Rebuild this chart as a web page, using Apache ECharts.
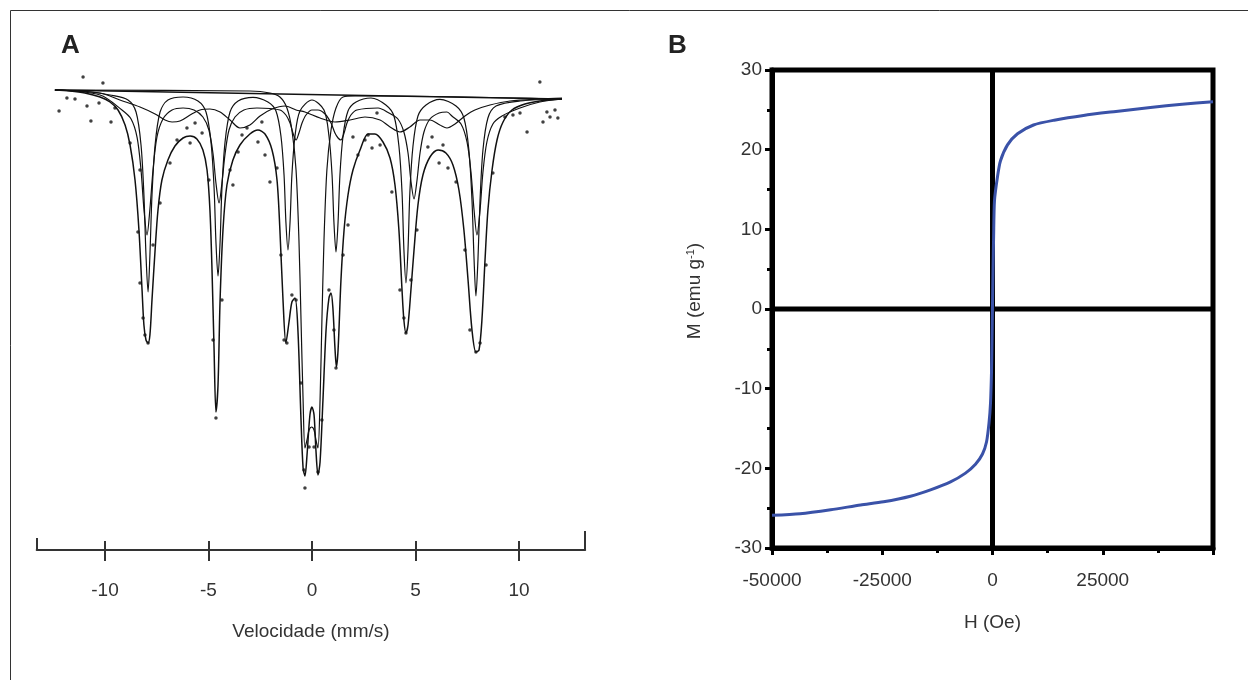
<!DOCTYPE html>
<html>
<head>
<meta charset="utf-8">
<script src="https://cdn.jsdelivr.net/npm/echarts@6/dist/echarts.min.js"></script>
<style>html,body{margin:0;padding:0;background:#fff;}#c{width:1248px;height:680px;}</style>
</head>
<body>
<div id="c"></div>
<script>
// ---------- Panel A: Mössbauer spectrum (velocity mm/s, relative transmission %) ----------
const velTicks = [-10, -5, 0, 5, 10];
const velMin = -13.3, velMax = 13.2;

const envelopeFit = [[-12.42,100],[-11.69,99.97],[-10.97,99.91],[-10.24,99.79],[-9.76,99.64],[-9.37,99.4],[-9.03,98.95],[-8.79,98.35],[-8.55,97.3],[-8.36,95.8],[-8.21,94.0],[-8.12,92.95],[-8.02,92.5],[-7.92,92.41],[-7.83,92.65],[-7.73,93.7],[-7.58,95.2],[-7.44,96.4],[-7.25,97.3],[-6.96,97.9],[-6.62,98.32],[-6.23,98.56],[-5.89,98.62],[-5.56,98.53],[-5.27,98.2],[-5.07,97.6],[-4.93,96.4],[-4.83,94.6],[-4.73,92.2],[-4.64,90.34],[-4.54,91.15],[-4.44,93.7],[-4.30,95.8],[-4.11,97.15],[-3.82,97.9],[-3.48,98.35],[-3.0,98.68],[-2.61,98.8],[-2.27,98.68],[-1.93,98.2],[-1.69,97.3],[-1.55,95.8],[-1.40,93.7],[-1.26,92.41],[-1.11,93.04],[-0.97,93.64],[-0.82,93.76],[-0.68,92.8],[-0.53,90.1],[-0.43,88.66],[-0.34,88.42],[-0.24,89.05],[-0.10,90.25],[0,90.49],[0.10,90.25],[0.19,89.2],[0.29,88.45],[0.39,88.84],[0.53,90.7],[0.68,92.8],[0.82,93.76],[0.92,93.91],[1.01,93.46],[1.11,92.26],[1.18,91.69],[1.26,92.2],[1.40,94.3],[1.55,95.8],[1.74,96.85],[1.98,97.6],[2.32,98.2],[2.71,98.68],[3.04,98.68],[3.43,98.44],[3.77,97.96],[4.01,97.15],[4.20,95.8],[4.35,94.0],[4.44,93.1],[4.54,92.71],[4.64,92.95],[4.78,94.0],[4.93,95.2],[5.12,96.55],[5.36,97.45],[5.70,97.99],[6.09,98.2],[6.47,98.11],[6.81,97.75],[7.10,97.0],[7.34,95.8],[7.54,94.3],[7.73,92.8],[7.92,92.14],[8.07,92.2],[8.21,93.1],[8.36,94.9],[8.50,96.4],[8.70,97.6],[8.94,98.5],[9.23,99.04],[9.66,99.4],[10.29,99.58],[11.01,99.67],[12.08,99.73]];

const sextetSharp = [[-12.42,100],[-10.72,99.94],[-9.76,99.85],[-8.89,99.7],[-8.50,99.34],[-8.26,98.35],[-8.12,96.85],[-8.02,95.05],[-7.92,93.94],[-7.83,95.05],[-7.73,96.85],[-7.58,98.35],[-7.34,99.34],[-6.96,99.7],[-6.23,99.79],[-5.51,99.67],[-5.12,99.34],[-4.88,98.44],[-4.73,97.06],[-4.64,95.44],[-4.54,94.42],[-4.44,95.44],[-4.35,97.06],[-4.20,98.44],[-3.96,99.34],[-3.57,99.67],[-2.85,99.78],[-2.13,99.64],[-1.74,99.37],[-1.50,98.62],[-1.35,97.45],[-1.26,96.04],[-1.16,95.2],[-1.06,96.04],[-0.97,97.45],[-0.82,98.62],[-0.58,99.37],[0,99.7],[0.58,99.4],[0.82,98.62],[0.97,97.45],[1.06,96.04],[1.16,95.14],[1.26,96.04],[1.35,97.45],[1.50,98.62],[1.74,99.37],[2.13,99.64],[2.85,99.76],[3.57,99.55],[3.96,99.22],[4.20,98.32],[4.35,96.94],[4.44,95.23],[4.54,94.21],[4.64,95.23],[4.73,96.94],[4.88,98.32],[5.12,99.22],[5.51,99.55],[6.18,99.72],[6.96,99.52],[7.34,99.16],[7.58,98.2],[7.73,96.7],[7.83,94.93],[7.92,93.82],[8.02,94.93],[8.12,96.7],[8.26,98.2],[8.50,99.16],[8.89,99.52],[10.05,99.67],[12.08,99.73]];

const sextetMedium = [[-12.42,100],[-10.24,99.85],[-9.18,99.4],[-8.74,99.13],[-8.45,98.58],[-8.26,97.6],[-8.12,96.43],[-7.97,95.65],[-7.83,96.43],[-7.68,97.6],[-7.49,98.59],[-7.20,99.13],[-6.76,99.4],[-6.23,99.46],[-5.70,99.4],[-5.27,99.19],[-4.98,98.8],[-4.78,98.08],[-4.64,97.21],[-4.49,96.61],[-4.35,97.21],[-4.20,98.08],[-4.01,98.8],[-3.72,99.19],[-3.29,99.4],[-2.66,99.46],[-1.55,99.4],[-1.26,99.25],[-1.06,99.01],[-0.92,98.71],[-0.77,98.5],[-0.63,98.71],[-0.48,99.01],[-0.29,99.25],[0,99.4],[0.29,99.4],[0.63,99.28],[0.92,99.01],[1.11,98.71],[1.26,98.56],[1.40,98.5],[1.55,98.71],[1.69,99.01],[1.88,99.25],[2.17,99.4],[3.19,99.46],[3.72,99.31],[4.15,99.13],[4.44,98.74],[4.64,98.11],[4.78,97.27],[4.93,96.73],[5.07,97.27],[5.22,98.11],[5.41,98.74],[5.70,99.13],[6.14,99.31],[6.52,99.34],[6.76,99.22],[7.20,98.98],[7.49,98.44],[7.68,97.54],[7.83,96.4],[7.97,95.65],[8.12,96.4],[8.26,97.54],[8.45,98.44],[8.74,98.98],[9.18,99.22],[10.05,99.46],[11.01,99.64],[12.08,99.73]];

const sextetBroad = [[-12.42,100],[-10.24,99.91],[-9.28,99.7],[-8.31,99.49],[-7.58,99.28],[-7.10,99.1],[-6.76,99.04],[-6.38,99.07],[-5.89,99.25],[-5.41,99.4],[-4.93,99.43],[-4.44,99.34],[-3.96,99.1],[-3.48,98.86],[-3.0,98.95],[-2.51,99.22],[-1.93,99.43],[-1.30,99.52],[-0.77,99.4],[-0.34,99.34],[0.39,99.16],[1.11,99.04],[1.84,99.1],[2.56,99.19],[3.29,99.1],[3.77,98.89],[4.25,98.74],[4.73,98.89],[5.22,99.1],[5.70,99.1],[6.18,98.95],[6.52,98.86],[6.91,98.98],[7.39,99.22],[7.87,99.4],[8.60,99.55],[9.57,99.67],[11.01,99.73],[12.08,99.76]];

const doubletFit = [[-12.42,100],[-3.0,99.97],[-2.03,99.91],[-1.55,99.79],[-1.21,99.46],[-0.97,98.8],[-0.77,97.6],[-0.63,95.5],[-0.53,93.1],[-0.43,90.7],[-0.34,89.26],[-0.24,89.5],[-0.14,89.8],[-0.02,89.89],[0.10,89.8],[0.19,89.5],[0.29,89.26],[0.39,90.7],[0.48,93.1],[0.58,95.5],[0.72,97.6],[0.92,98.8],[1.16,99.46],[1.50,99.79],[2.08,99.82],[3.29,99.82],[12.08,99.73]];

const baselineFit = [[-12.42,100],[12.08,99.73]];

const spectrumPoints = [[-11.06,100.39],[-10.10,100.21],[-12.22,99.37],[-10.68,99.07],[-9.71,99.04],[-11.84,99.76],[-11.45,99.73],[-10.87,99.52],[-10.29,99.61],[-9.52,99.46],[-8.79,98.41],[-8.31,97.6],[-8.41,95.74],[-8.31,94.21],[-8.07,92.65],[-7.92,92.41],[-8.16,93.16],[-7.68,95.35],[-7.34,96.61],[-6.86,97.81],[-6.52,98.5],[-6.04,98.86],[-5.89,98.41],[-5.65,99.01],[-5.31,98.71],[-4.98,97.3],[-4.78,92.5],[-4.64,90.16],[-4.35,93.7],[-3.96,97.6],[-3.82,97.15],[-3.57,98.14],[-3.38,98.65],[-3.14,98.86],[-2.61,98.44],[-2.42,99.04],[-2.27,98.05],[-2.03,97.24],[-1.69,97.66],[-1.50,95.05],[-1.35,92.5],[-1.21,92.41],[-0.97,93.85],[-0.77,93.7],[-0.53,91.21],[-0.39,88.6],[-0.34,88.06],[-0.14,89.29],[0.10,89.29],[0.29,88.54],[0.48,90.1],[0.82,94.0],[1.16,91.66],[1.06,92.8],[1.50,95.05],[1.74,95.95],[1.98,98.59],[2.22,98.05],[2.56,98.5],[2.71,98.65],[2.90,98.26],[3.14,99.31],[3.29,98.35],[3.86,96.94],[4.25,94.0],[4.44,93.16],[4.54,92.71],[4.78,94.3],[5.07,95.8],[5.60,98.29],[5.80,98.59],[6.14,97.81],[6.33,98.35],[6.57,97.66],[6.96,97.24],[7.39,95.2],[7.63,92.8],[7.92,92.14],[8.12,92.41],[8.41,94.75],[8.74,97.51],[9.32,99.19],[9.71,99.25],[10.05,99.31],[10.39,98.74],[11.01,100.24],[11.16,99.04],[11.35,99.34],[11.50,99.19],[11.74,99.4],[11.88,99.16]];

// ---------- Panel B: magnetization curve ----------
const fieldTicks = [-50000, -25000, 0, 25000];
const magTicks = [-30, -20, -10, 0, 10, 20, 30];
const hysteresis = [[-50000,-25.9],[-43650,-25.7],[-36700,-25.2],[-29900,-24.6],[-24700,-24.2],[-18600,-23.5],[-14060,-22.7],[-9520,-21.7],[-6120,-20.6],[-3860,-19.5],[-2270,-18.2],[-1360,-16.7],[-790,-14.3],[-450,-11.8],[-230,-8.0],[-110,-4.0],[0,0.5],[120,5.0],[250,9.0],[450,13.6],[1130,16.6],[1814,18.6],[3400,20.6],[5670,22.0],[9300,23.1],[14000,23.7],[20630,24.3],[28000,24.8],[35800,25.3],[43000,25.7],[50000,26.0]];
const zeroV = [[0,-30],[0,30]];
const zeroH = [[-50000,0],[50000,0]];

const FONT = "'Liberation Sans', Arial, sans-serif";
const chart = echarts.init(document.getElementById('c'), null, {renderer: 'canvas'});

const lineS = (name, data, w) => ({
  name, type: 'line', xAxisIndex: 0, yAxisIndex: 0, data,
  showSymbol: false, smooth: 0.3, silent: true,
  lineStyle: {color: '#111', width: w}, z: 3
});

chart.setOption({
  animation: false,
  backgroundColor: '#fff',
  textStyle: {fontFamily: FONT},
  title: [
    {text: 'A', left: 61, top: 33, padding: 0, textStyle: {fontSize: 26, fontWeight: 'bold', color: '#222', fontFamily: FONT}},
    {text: 'B', left: 668, top: 33, padding: 0, textStyle: {fontSize: 26, fontWeight: 'bold', color: '#222', fontFamily: FONT}}
  ],
  graphic: [{
    type: 'rect', silent: true, z: -1,
    shape: {x: 10.5, y: 10.5, width: 1300, height: 720},
    style: {fill: 'none', stroke: '#333', lineWidth: 1}
  }],
  grid: [
    {left: 36.7, right: 662.8, top: 70, bottom: 190, show: false},
    {left: 772, right: 35, top: 70, bottom: 132, show: true, borderColor: '#000', borderWidth: 5, backgroundColor: 'transparent'}
  ],
  xAxis: [
    {type: 'value', gridIndex: 0, min: velMin, max: velMax, position: 'bottom', offset: 60,
     axisLine: {show: true, lineStyle: {color: '#333', width: 2}},
     axisTick: {show: true, inside: false, length: 11, customValues: velTicks, lineStyle: {color: '#333', width: 2}},
     axisLabel: {show: true, customValues: velTicks, margin: 31, fontSize: 19, color: '#333', fontFamily: FONT},
     splitLine: {show: false},
     name: 'Velocidade (mm/s)', nameLocation: 'middle', nameGap: 72,
     nameTextStyle: {fontSize: 19, color: '#333', fontFamily: FONT}},
    {type: 'value', gridIndex: 0, min: velMin, max: velMax, position: 'bottom', offset: 60,
     axisLine: {show: false},
     axisTick: {show: true, inside: true, length: 9, customValues: velTicks, lineStyle: {color: '#333', width: 2}},
     axisLabel: {show: false}, splitLine: {show: false}},
    {type: 'value', gridIndex: 0, min: velMin, max: velMax, position: 'bottom', offset: 60,
     axisLine: {show: false},
     axisTick: {show: true, inside: true, length: 12, customValues: [velMin], lineStyle: {color: '#333', width: 2}},
     axisLabel: {show: false}, splitLine: {show: false}},
    {type: 'value', gridIndex: 0, min: velMin, max: velMax, position: 'bottom', offset: 60,
     axisLine: {show: false},
     axisTick: {show: true, inside: true, length: 19, customValues: [velMax], lineStyle: {color: '#333', width: 2}},
     axisLabel: {show: false}, splitLine: {show: false}},
    {type: 'value', gridIndex: 1, min: -50000, max: 50000, interval: 25000,
     axisLine: {show: true, onZero: false, lineStyle: {color: '#000', width: 5}},
     axisTick: {show: true, inside: false, length: 7, lineStyle: {color: '#000', width: 3}},
     minorTick: {show: true, splitNumber: 2, length: 5, lineStyle: {color: '#000', width: 3}},
     axisLabel: {show: true, customValues: fieldTicks, margin: 23, fontSize: 19, color: '#333', fontFamily: FONT,
       formatter: v => String(v)},
     splitLine: {show: false},
     name: 'H (Oe)', nameLocation: 'middle', nameGap: 65,
     nameTextStyle: {fontSize: 19, color: '#333', fontFamily: FONT}}
  ],
  yAxis: [
    {type: 'value', gridIndex: 0, min: 88, max: 100.6, show: false},
    {type: 'value', gridIndex: 1, min: -30, max: 30, interval: 10,
     axisLine: {show: true, onZero: false, lineStyle: {color: '#000', width: 5}},
     axisTick: {show: true, inside: false, length: 7, lineStyle: {color: '#000', width: 3}},
     minorTick: {show: true, splitNumber: 2, length: 5, lineStyle: {color: '#000', width: 3}},
     axisLabel: {show: true, customValues: magTicks, margin: 10, fontSize: 19, color: '#333', fontFamily: FONT, padding: [0, 0, 9, 0],
       formatter: v => String(v)},
     splitLine: {show: false},
     name: 'M (emu g{sup|-1})', nameLocation: 'middle', nameGap: 68,
     nameTextStyle: {fontSize: 19, color: '#333', fontFamily: FONT, padding: [0, 0, 0, 36],
       rich: {sup: {fontSize: 11, verticalAlign: 'top', color: '#333', fontFamily: FONT, padding: [0, 0, 8, 0]}}}}
  ],
  series: [
    lineS('Linha base', baselineFit, 1.4),
    lineS('Sexteto largo', sextetBroad, 1.2),
    lineS('Sexteto 2', sextetMedium, 1.2),
    lineS('Sexteto 1', sextetSharp, 1.2),
    lineS('Dubleto', doubletFit, 1.2),
    lineS('Ajuste total', envelopeFit, 1.5),
    {name: 'Experimental', type: 'scatter', xAxisIndex: 0, yAxisIndex: 0, data: spectrumPoints,
     symbolSize: 3.5, itemStyle: {color: '#111'}, silent: true, z: 4},
    {name: 'zeroV', type: 'line', xAxisIndex: 4, yAxisIndex: 1, data: zeroV, showSymbol: false, silent: true,
     lineStyle: {color: '#000', width: 5}, z: 1},
    {name: 'zeroH', type: 'line', xAxisIndex: 4, yAxisIndex: 1, data: zeroH, showSymbol: false, silent: true,
     lineStyle: {color: '#000', width: 5}, z: 1},
    {name: 'M(H)', type: 'line', xAxisIndex: 4, yAxisIndex: 1, data: hysteresis, showSymbol: false, silent: true,
     smooth: 0.25, lineStyle: {color: '#3a52a8', width: 3}, z: 3}
  ]
});
</script>
</body>
</html>
